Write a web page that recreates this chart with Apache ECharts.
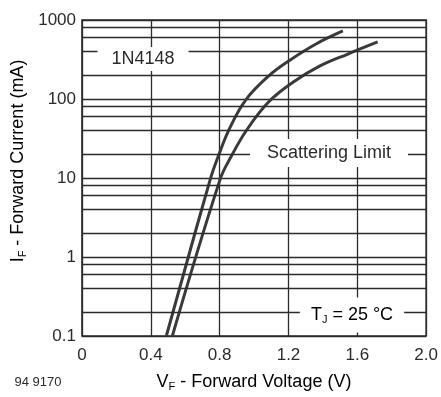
<!DOCTYPE html>
<html><head><meta charset="utf-8">
<script src="https://cdn.jsdelivr.net/npm/echarts@6/dist/echarts.min.js"></script>
<style>html,body{margin:0;padding:0;background:#fff}#c{width:441px;height:397px}</style>
</head><body><div id="c"></div>
<script>
const xTickLabels = ['0','0.4','0.8','1.2','1.6','2.0'];
const yTickLabels = ['0.1','1','10','100','1000'];
const minorGridValues = [0.2,0.4,0.6,0.8,2,4,6,8,20,40,60,80,200,400,600,800];
const curveAV = [0.49, 0.744, 0.79, 0.859, 0.951, 1.084, 1.21, 1.36, 1.516];
const curveAI = [0.1, 9.4, 18.4, 43, 97, 195, 312, 497, 726];
const curveBV = [0.525, 0.801, 0.865, 0.957, 1.084, 1.228, 1.383, 1.545, 1.718];
const curveBI = [0.1, 9.4, 18.4, 40.5, 91.6, 164, 262, 371, 527];

const ink = '#2b2b2b';
const F = 'Liberation Sans, Arial, sans-serif';
const chart = echarts.init(document.getElementById('c'));
const xMap = {}; [0,0.4,0.8,1.2,1.6,2.0].forEach((v,i)=>xMap[v.toFixed(1)] = xTickLabels[i]);
const yMap = {}; [0.1,1,10,100,1000].forEach((v,i)=>yMap[String(v)] = yTickLabels[i]);
const lineStyle = {color: '#3a3a3a', width: 3};
const rich = {a: {fontSize: 18, fontFamily: F, color: ink, lineHeight: 21},
              s: {fontSize: 11, fontFamily: F, color: ink, lineHeight: 10, verticalAlign: 'bottom'}};
chart.setOption({
  animation: false,
  backgroundColor: '#fff',
  grid: {left: 82, right: 12, top: 20, bottom: 61, show: true, borderColor: ink, borderWidth: 1.6},
  xAxis: {type: 'value', min: 0, max: 2.0, interval: 0.4,
    axisLine: {show: false}, axisTick: {show: false},
    splitLine: {show: true, lineStyle: {color: ink, width: 1.3}},
    axisLabel: {color: ink, fontFamily: F, fontSize: 17, margin: 11,
      formatter: v => xMap[(+v).toFixed(1)] ?? ''}},
  yAxis: {type: 'log', logBase: 10, min: 0.1, max: 1000,
    axisLine: {show: false}, axisTick: {show: false},
    splitLine: {show: true, lineStyle: {color: ink, width: 1.3}},
    minorTick: {show: false}, minorSplitLine: {show: false},
    axisLabel: {color: ink, fontFamily: F, fontSize: 17, margin: 6,
      formatter: v => { const k = Object.keys(yMap).find(s => Math.abs(Math.log10(+s) - Math.log10(v)) < 1e-6); return k ? yMap[k] : ''; }}},
  series: [
    {type: 'line', data: [], z: 1, silent: true,
      markLine: {silent: true, symbol: 'none', label: {show: false},
        lineStyle: {color: ink, width: 1.3, type: 'solid'},
        data: minorGridValues.map(v => ({yAxis: v}))}},
    {type: 'line', z: 3, smooth: 0.4, showSymbol: false, lineStyle,
      data: curveAV.map((v,i)=>[v, curveAI[i]])},
    {type: 'line', z: 3, smooth: 0.4, showSymbol: false, lineStyle,
      data: curveBV.map((v,i)=>[v, curveBI[i]])}
  ],
  graphic: [
    {type: 'text', z: 100, x: 143, y: 59, style: {text: '1N4148', font: '18px ' + F, fill: ink,
      align: 'center', verticalAlign: 'middle', backgroundColor: '#fff', padding: [3, 14]}},
    {type: 'text', z: 100, x: 329, y: 153, style: {text: 'Scattering Limit', font: '18px ' + F, fill: ink,
      align: 'center', verticalAlign: 'middle', backgroundColor: '#fff', padding: [5, 17]}},
    {type: 'text', z: 100, x: 352, y: 315, style: {
      text: '{a|T}{s|J}{a| = 25 °C}', align: 'center', verticalAlign: 'middle',
      backgroundColor: '#fff', padding: [7, 11], rich}},
    {type: 'text', z: 100, x: 254, y: 382, style: {
      text: '{a|V}{s|F}{a| - Forward Voltage (V)}', align: 'center', verticalAlign: 'middle', rich}},
    {type: 'text', z: 100, x: 18, y: 161, rotation: Math.PI / 2, style: {
      text: '{a|I}{s|F}{a| - Forward Current (mA)}', align: 'center', verticalAlign: 'middle', rich}},
    {type: 'text', z: 100, x: 38, y: 382, style: {text: '94 9170', font: '13px ' + F, fill: ink,
      align: 'center', verticalAlign: 'middle'}}
  ]
});
</script></body></html>
